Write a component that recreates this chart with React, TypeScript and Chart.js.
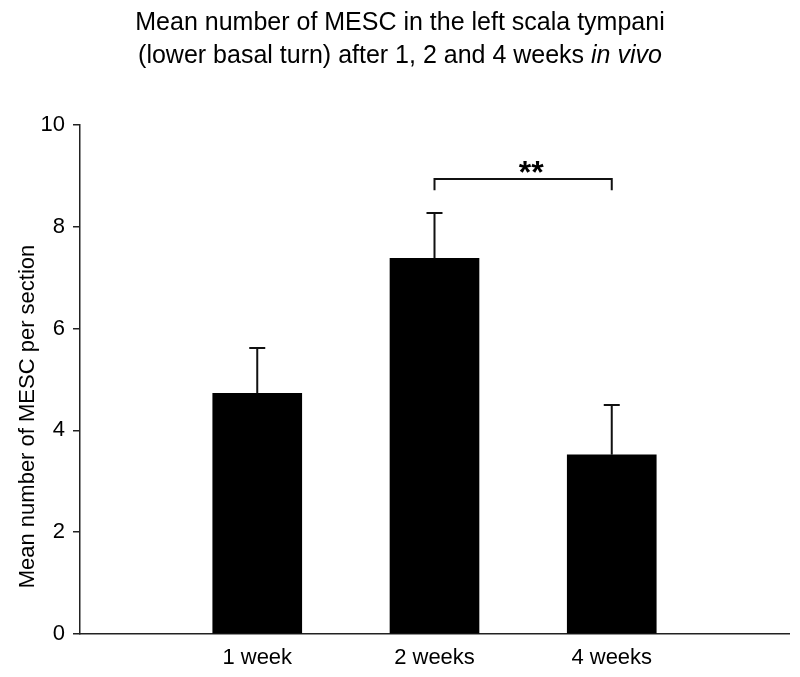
import React, { useEffect, useRef } from 'react';
import { Chart, registerables } from 'chart.js';

Chart.register(...registerables);

// ---- data ----
const categories = ['1 week', '2 weeks', '4 weeks'];
const means = [4.73, 7.38, 3.52];
const errorTops = [5.62, 8.27, 4.5];
const yTicks = [0, 2, 4, 6, 8, 10];
const titleLine1 = 'Mean number of MESC in the left scala tympani';
const titleLine2Plain = '(lower basal turn) after 1, 2 and 4 weeks ';
const titleLine2Italic = 'in vivo';
const yAxisTitle = 'Mean number of MESC per section';
const sigPair = [1, 2];
const sigLevel = 8.94;
const sigDrop = 8.72;
const sigLabel = '**';

const FONT = "'Liberation Sans', Arial, Helvetica, sans-serif";

const overlayPlugin = {
  id: 'overlay',
  afterDatasetsDraw(chart: any) {
    const ctx = chart.ctx;
    const xs = chart.scales.x;
    const ys = chart.scales.y;
    ctx.save();
    ctx.strokeStyle = '#111';
    ctx.lineWidth = 2;
    // error bars
    means.forEach((m, i) => {
      const x = xs.getPixelForValue(i + 1);
      const yb = ys.getPixelForValue(m);
      const yt = ys.getPixelForValue(errorTops[i]);
      ctx.beginPath();
      ctx.moveTo(x, yb);
      ctx.lineTo(x, yt);
      ctx.moveTo(x - 8, yt);
      ctx.lineTo(x + 8, yt);
      ctx.stroke();
    });
    // significance bracket
    const x1 = xs.getPixelForValue(sigPair[0] + 1);
    const x2 = xs.getPixelForValue(sigPair[1] + 1);
    const yl = ys.getPixelForValue(sigLevel);
    const yd = ys.getPixelForValue(sigDrop);
    ctx.beginPath();
    ctx.moveTo(x1, yd);
    ctx.lineTo(x1, yl);
    ctx.lineTo(x2, yl);
    ctx.lineTo(x2, yd);
    ctx.stroke();
    ctx.fillStyle = '#000';
    ctx.font = `bold 32px ${FONT}`;
    ctx.textAlign = 'center';
    ctx.textBaseline = 'alphabetic';
    ctx.fillText(sigLabel, (x1 + x2) / 2 + 8, yl + 4);
    ctx.restore();
  },
  afterDraw(chart: any) {
    const ctx = chart.ctx;
    const cx = chart.width / 2;
    const area = chart.chartArea;
    ctx.save();
    ctx.fillStyle = '#000';
    ctx.textBaseline = 'alphabetic';
    ctx.font = `25px ${FONT}`;
    ctx.textAlign = 'center';
    ctx.fillText(titleLine1, cx, 30);
    const plainFont = `25px ${FONT}`;
    const italicFont = `italic 25px ${FONT}`;
    ctx.font = plainFont;
    const w1 = ctx.measureText(titleLine2Plain).width;
    ctx.font = italicFont;
    const w2 = ctx.measureText(titleLine2Italic).width;
    const start = cx - (w1 + w2) / 2;
    ctx.textAlign = 'left';
    ctx.font = plainFont;
    ctx.fillText(titleLine2Plain, start, 63);
    ctx.font = italicFont;
    ctx.fillText(titleLine2Italic, start + w1, 63);
    // y-axis title
    ctx.save();
    ctx.translate(28, (area.top + area.bottom) / 2 + 37);
    ctx.rotate(-Math.PI / 2);
    ctx.font = `22px ${FONT}`;
    ctx.textAlign = 'center';
    ctx.textBaseline = 'middle';
    ctx.fillText(yAxisTitle, 0, 0);
    ctx.restore();
    ctx.restore();
  },
};

export default function App() {
  const ref = useRef<HTMLCanvasElement | null>(null);
  useEffect(() => {
    document.body.style.margin = '0';
    const canvas = ref.current;
    if (!canvas) return;
    const chart = new Chart(canvas, {
      type: 'bar',
      data: {
        labels: ['', ...categories, ''],
        datasets: [
          {
            data: [null, ...means, null] as any,
            backgroundColor: '#000',
            borderWidth: 0,
            barThickness: 89,
          },
        ],
      },
      options: {
        animation: false,
        responsive: false,
        maintainAspectRatio: false,
        layout: { padding: { top: 125, right: 5, left: 0, bottom: 0 } },
        plugins: {
          legend: { display: false },
          tooltip: { enabled: false },
          title: { display: false },
        },
        scales: {
          x: {
            type: 'category',
            offset: false,
            grid: { display: false, drawTicks: false },
            border: { display: true, color: '#222', width: 1.5 },
            ticks: {
              color: '#000',
              font: { family: FONT, size: 22 },
              padding: 11,
              autoSkip: false,
              maxRotation: 0,
            },
            afterFit(scale: any) {
              scale.height = 43;
            },
          },
          y: {
            min: 0,
            max: 10,
            afterBuildTicks(scale: any) {
              scale.ticks = yTicks.map((v) => ({ value: v }));
            },
            grid: {
              display: true,
              drawOnChartArea: false,
              drawTicks: true,
              tickLength: 7,
              color: '#222',
              lineWidth: 1.5,
            },
            border: { display: true, color: '#222', width: 1.5 },
            ticks: {
              color: '#000',
              font: { family: FONT, size: 22 },
              padding: 8,
            },
            title: { display: false },
            afterFit(scale: any) {
              scale.width = 80;
            },
          },
        },
      },
      plugins: [overlayPlugin],
    });
    return () => chart.destroy();
  }, []);
  return (
    <div style={{ width: 800, height: 677, background: '#fff' }}>
      <canvas ref={ref} width={800} height={677} style={{ display: 'block', width: 800, height: 677 }} />
    </div>
  );
}
